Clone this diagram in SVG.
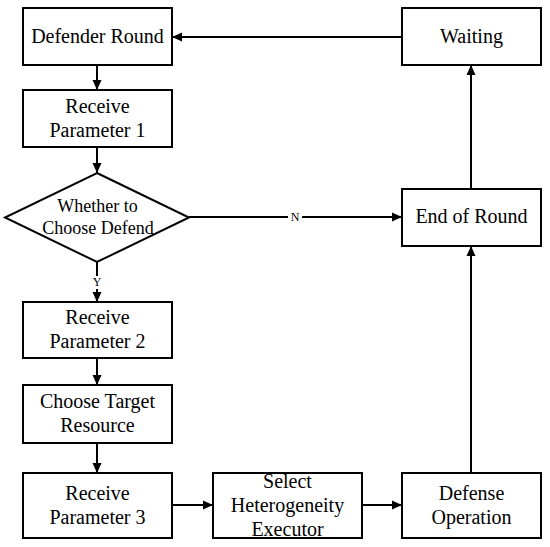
<svg xmlns="http://www.w3.org/2000/svg" width="550" height="547" viewBox="0 0 550 547">
<defs>
<marker id="ah" viewBox="0 0 10 10" refX="10" refY="5" markerWidth="10" markerHeight="10" markerUnits="userSpaceOnUse" orient="auto">
<path d="M0,0.5 L10,5 L0,9.5 Z" fill="#000"/>
</marker>
<style>
.box{fill:#fff;stroke:#000;stroke-width:2}
.c{fill:none;stroke:#000;stroke-width:2}
</style>
</defs>
<rect width="550" height="547" fill="#fff"/>
<g id="connectors">
<line class="c" x1="97" y1="65" x2="97" y2="90" marker-end="url(#ah)"/>
<line class="c" x1="97" y1="147" x2="97" y2="173" marker-end="url(#ah)"/>
<line class="c" x1="97" y1="262" x2="97" y2="276"/>
<line class="c" x1="97" y1="289" x2="97" y2="302" marker-end="url(#ah)"/>
<line class="c" x1="97" y1="358" x2="97" y2="385" marker-end="url(#ah)"/>
<line class="c" x1="97" y1="443" x2="97" y2="473" marker-end="url(#ah)"/>
<line class="c" x1="172" y1="505" x2="213" y2="505" marker-end="url(#ah)"/>
<line class="c" x1="362" y1="505" x2="402" y2="505" marker-end="url(#ah)"/>
<line class="c" x1="471" y1="473" x2="471" y2="246" marker-end="url(#ah)"/>
<line class="c" x1="471" y1="189" x2="471" y2="65" marker-end="url(#ah)"/>
<line class="c" x1="402" y1="37" x2="172" y2="37" marker-end="url(#ah)"/>
<line class="c" x1="189" y1="217" x2="288" y2="217"/>
<line class="c" x1="302" y1="217" x2="402" y2="217" marker-end="url(#ah)"/>
<g font-family="'Liberation Serif', 'Times New Roman', 'DejaVu Serif', serif" font-size="12" text-anchor="middle" fill="#000">
<text x="97" y="286">Y</text>
<text x="295" y="221">N</text>
</g>
</g>
<g font-family="'Liberation Serif', 'Times New Roman', 'DejaVu Serif', serif" font-size="20" text-anchor="middle" fill="#000">
<g id="defender-round">
<rect class="box" x="23" y="8" width="149" height="57"/>
<text x="97.5" y="43">Defender Round</text>
</g>
<g id="receive-parameter-1">
<rect class="box" x="23" y="90" width="149" height="57"/>
<text x="97.5" y="113">Receive</text>
<text x="97.5" y="137">Parameter 1</text>
</g>
<g id="whether-to-choose-defend">
<polygon class="box" points="97,173 189,217.5 97,262 5,217.5"/>
<text x="97.5" y="212" font-size="18">Whether to</text>
<text x="98" y="234" font-size="18">Choose Defend</text>
</g>
<g id="receive-parameter-2">
<rect class="box" x="23" y="302" width="149" height="56"/>
<text x="97.5" y="324">Receive</text>
<text x="97.5" y="348">Parameter 2</text>
</g>
<g id="choose-target-resource">
<rect class="box" x="23" y="385" width="149" height="58"/>
<text x="97.5" y="408">Choose Target</text>
<text x="97.5" y="432">Resource</text>
</g>
<g id="receive-parameter-3">
<rect class="box" x="23" y="473" width="149" height="65"/>
<text x="97.5" y="500">Receive</text>
<text x="97.5" y="524">Parameter 3</text>
</g>
<g id="select-heterogeneity-executor">
<rect class="box" x="213" y="473" width="149" height="65"/>
<text x="287.5" y="488">Select</text>
<text x="287.5" y="512">Heterogeneity</text>
<text x="287.5" y="536">Executor</text>
</g>
<g id="defense-operation">
<rect class="box" x="402" y="473" width="139" height="65"/>
<text x="471.5" y="500">Defense</text>
<text x="471.5" y="524">Operation</text>
</g>
<g id="end-of-round">
<rect class="box" x="402" y="189" width="139" height="57"/>
<text x="471.5" y="223">End of Round</text>
</g>
<g id="waiting">
<rect class="box" x="402" y="8" width="139" height="57"/>
<text x="471.5" y="43">Waiting</text>
</g>
</g>
</svg>
